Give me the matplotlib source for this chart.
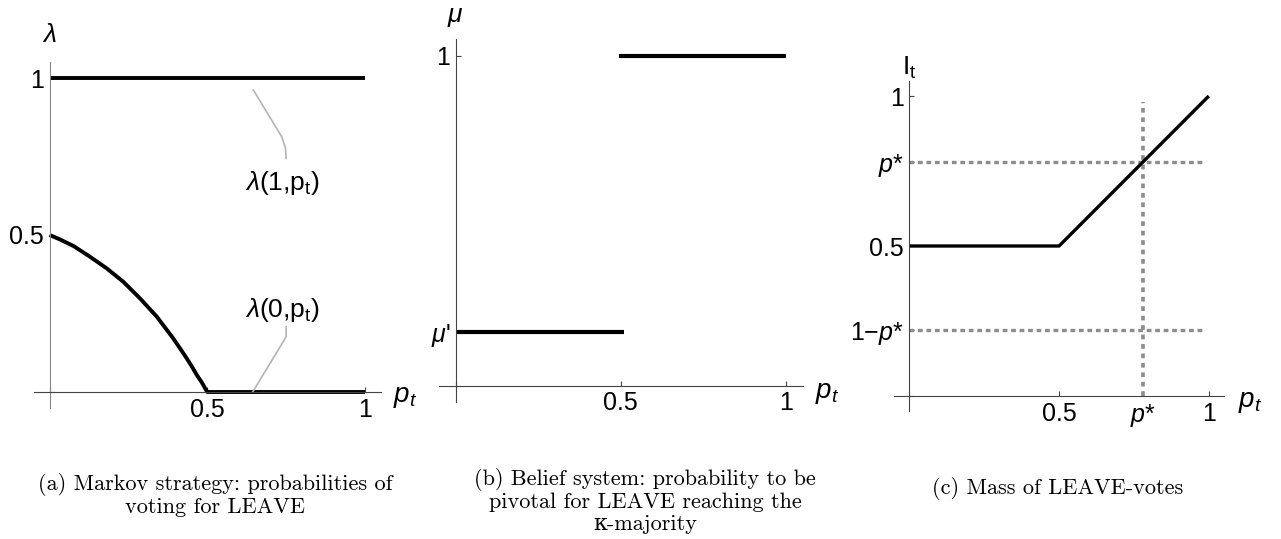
import matplotlib

matplotlib.use("Agg")
import matplotlib.pyplot as plt

plt.rcParams["font.family"] = "Liberation Sans"
plt.rcParams["mathtext.fontset"] = "custom"
plt.rcParams["mathtext.rm"] = "Liberation Sans"
plt.rcParams["mathtext.it"] = "Liberation Sans:italic"
plt.rcParams["lines.scale_dashes"] = False

W, H = 1281, 539

# (a) Markov strategy
lam1_x = [0.0, 1.0]
lam1_y = [1.0, 1.0]
lam0_x = [0.0, 0.033, 0.076, 0.128, 0.181, 0.234, 0.287, 0.340, 0.392,
          0.413, 0.435, 0.452, 0.467, 0.483, 0.5, 1.0]
lam0_y = [0.5, 0.486, 0.465, 0.431, 0.394, 0.351, 0.298, 0.240, 0.171,
          0.140, 0.107, 0.080, 0.054, 0.030, 0.0, 0.0]
lead1_x = [0.646, 0.736, 0.748, 0.750]
lead1_y = [0.962, 0.813, 0.777, 0.744]
lead0_x = [0.644, 0.731, 0.750, 0.750]
lead0_y = [0.0, 0.144, 0.176, 0.208]

# (b) belief system
mu_prime = 0.163
mu_lo_x = [0.0, 0.51]
mu_hi_x = [0.495, 1.0]
mu_hi = 1.0

# (c) mass of LEAVE-votes
p_star = 0.78
mass_x = [0.0, 0.5, 1.0]
mass_y = [0.5, 0.5, 1.0]

captions = [
    "(a) Markov strategy: probabilities of\nvoting for LEAVE",
    "(b) Belief system: probability to be\npivotal for LEAVE reaching the\nκ-majority",
    "(c) Mass of LEAVE-votes",
]


def make_axes(fig, ox, oy, sx, sy):
    # origin (ox, oy) and unit lengths in pixels; axes run from -0.05 to 1.05
    left = (ox - 0.05 * sx) / W
    bottom = (H - (oy + 0.05 * sy)) / H
    ax = fig.add_axes([left, bottom, 1.1 * sx / W, 1.1 * sy / H])
    ax.set_xlim(-0.05, 1.05)
    ax.set_ylim(-0.05, 1.05)
    for s in ("top", "right"):
        ax.spines[s].set_visible(False)
    ax.spines["left"].set_position(("data", 0))
    ax.spines["bottom"].set_position(("data", 0))
    for s in ("left", "bottom"):
        ax.spines[s].set_linewidth(0.8)
        ax.spines[s].set_color("#444444")
    ax.tick_params(direction="in", length=3.5, width=0.8, colors="#444444",
                   labelcolor="black", labelsize=18)
    ax.tick_params(axis="x", pad=4)
    ax.tick_params(axis="y", pad=4)
    ax.patch.set_visible(False)
    return ax


fig = plt.figure(figsize=(W / 100, H / 100), dpi=100)

# panel (a)
ax = make_axes(fig, 49.5, 392, 315.5, 314)
ax.spines["left"].set_color("#888888")
ax.plot(lam1_x, lam1_y, color="black", lw=2.8, solid_capstyle="butt")
ax.plot(lam0_x, lam0_y, color="black", lw=2.8, solid_capstyle="butt",
        solid_joinstyle="round")
ax.plot(lead1_x, lead1_y, color="#b4b4b4", lw=1.2)
ax.plot(lead0_x, lead0_y, color="#b4b4b4", lw=1.2)
ax.text(0.74, 0.666, r"$\lambda$(1,p$_\mathrm{t}$)", fontsize=19,
        ha="center", va="center")
ax.text(0.74, 0.261, r"$\lambda$(0,p$_\mathrm{t}$)", fontsize=19,
        ha="center", va="center")
ax.set_xticks([0, 0.5, 1], ["", "0.5", "1"])
ax.set_yticks([0, 0.5, 1], ["", "0.5", "1"])
ax.text(0, 1.137, r"$\lambda$", fontsize=19, ha="center", va="center")
ax.text(1.127, -0.016, r"$p_t$", fontsize=20, ha="center", va="center")

# panel (b)
ax = make_axes(fig, 455.7, 385.7, 330.3, 330)
ax.plot(mu_lo_x, [mu_prime, mu_prime], color="black", lw=3, solid_capstyle="butt")
ax.plot(mu_hi_x, [mu_hi, mu_hi], color="black", lw=3, solid_capstyle="butt")
ax.set_xticks([0, 0.5, 1], ["", "0.5", "1"])
ax.set_yticks([0, mu_prime, 1], ["", r"$\mu$'", "1"])
ax.text(0, 1.117, r"$\mu$", fontsize=19, ha="center", va="center")
ax.text(1.124, -0.022, r"$p_t$", fontsize=20, ha="center", va="center")

# panel (c)
ax = make_axes(fig, 909.3, 396, 299.5, 300)
grey = "#8c8c8c"
ax.plot([0, 0.98], [p_star, p_star], color=grey, lw=2.4, dashes=(3.4, 2.7))
ax.plot([0, 0.98], [1 - p_star, 1 - p_star], color=grey, lw=2.4,
        dashes=(3.4, 2.7))
ax.plot([p_star, p_star], [0, 0.98], color=grey, lw=2.6, dashes=(3.4, 3.4))
ax.plot(mass_x, mass_y, color="black", lw=2.4, solid_capstyle="butt")
ax.set_xticks([0, 0.5, p_star, 1], ["", "0.5", r"$p$*", "1"])
ax.set_yticks([0, 1 - p_star, 0.5, p_star, 1],
              ["", r"1−$p$*", "0.5", r"$p$*", "1"])
ax.text(0, 1.093, r"$\mathrm{I}_\mathrm{t}$", fontsize=19, ha="center",
        va="center")
ax.text(1.138, -0.019, r"$p_t$", fontsize=20, ha="center", va="center")

cap_kw = dict(fontsize=16, ha="center", va="center", multialignment="center",
              linespacing=1.15, family=["cmr10", "DejaVu Serif"])
fig.text(215 / W, 1 - 495 / H, captions[0], **cap_kw)
fig.text(645 / W, 1 - 501 / H, captions[1], **cap_kw)
fig.text(1058 / W, 1 - 489 / H, captions[2], **cap_kw)

fig.savefig("out.png", dpi=100)
